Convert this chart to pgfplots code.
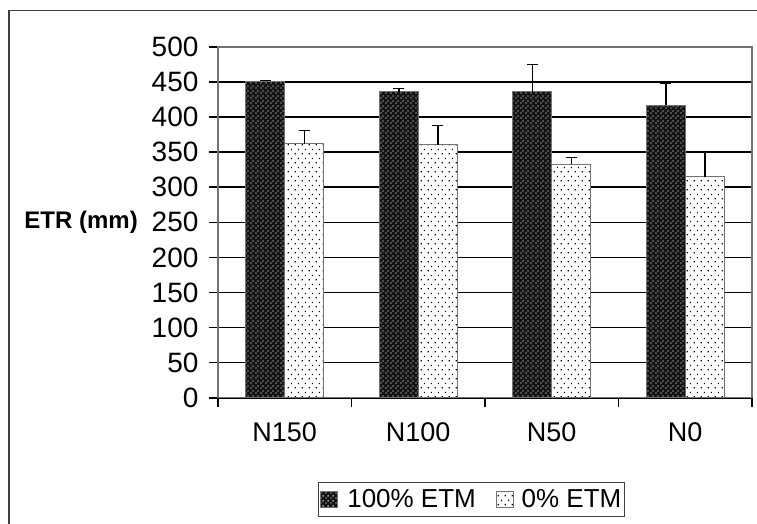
\documentclass[border=0pt]{standalone}
\usepackage{fontspec}
\setmainfont{Liberation Sans}
\usepackage{pgfplots}
\usepackage{pgfplotstable}
\pgfplotsset{compat=1.18}
\usetikzlibrary{patterns.meta}

\tikzdeclarepattern{name=darkdots, type=uncolored,
  bottom left={(0pt,0pt)}, top right={(5pt,5pt)}, tile size={(5pt,5pt)},
  code={\fill (0.3pt,0.3pt) rectangle (1.9pt,1.9pt); \fill (2.8pt,2.8pt) rectangle (4.4pt,4.4pt);}}
\tikzdeclarepattern{name=lightdots, type=uncolored,
  bottom left={(0pt,0pt)}, top right={(7pt,9pt)}, tile size={(7pt,9pt)},
  code={\fill (0.8pt,0.8pt) rectangle (2.2pt,2.2pt); \fill (4.3pt,5.3pt) rectangle (5.7pt,6.7pt);}}

\pgfplotsset{sqlegend/.style={legend image code/.code={\draw[##1] (0pt,-8pt) rectangle (17pt,8pt);}}}

\pgfplotstableread{
x y e
0 451 1.5
1 436 5
2 436 39
3 417 31
}\dark
\pgfplotstableread{
x y e
0 362 19
1 361 27
2 333 9.5
3 315 35
}\light

\begin{document}
\begin{tikzpicture}
\draw[black!75, line width=1.5pt] (9pt,-700pt) -- (9pt,-10.5pt) -- (800pt,-10.5pt);
\begin{axis}[
  at={(218pt,-397.7pt)}, anchor=south west,
  scale only axis, width=534pt, height=350.7pt,
  xmin=-0.5, xmax=3.5, ymin=0, ymax=500,
  ytick={0,50,...,500},
  xtick={-0.5,0.5,1.5,2.5,3.5},
  xticklabels={N150,N100,N50,N0},
  x tick label as interval,
  tick pos=left, tick align=outside,
  major tick length=9pt,
  tick style={black, line width=1.6pt},
  ymajorgrids, major grid style={black, line width=1.6pt},
  axis line style={black!55, line width=1.3pt},
  /pgf/number format/assume math mode=true,
  tick label style={font=\fontsize{27}{31}\selectfont},
  yticklabel style={xshift=-7pt, font=\fontsize{28}{32}\selectfont},
  xticklabel style={yshift=-12pt},
  every axis y label/.style={at={(axis description cs:0,0.5)}, anchor=east, inner sep=0pt, xshift=-80pt, font=\bfseries\fontsize{24}{28}\selectfont},
  ylabel={ETR (mm)},
  ybar=0pt, bar width=39pt,
  legend style={at={(axis description cs:0,0)}, anchor=north west, xshift=100pt, yshift=-84.3pt,
    draw=black!75, line width=1pt, font=\fontsize{26}{30}\selectfont,
    inner xsep=1pt, inner ysep=5pt},
  legend columns=2,
  legend style={/tikz/every even column/.append style={column sep=18pt}},
]
\addplot+[fill=black!92, draw=black!55, line width=0.8pt,
  postaction={pattern={darkdots}, pattern color=black!40},
  sqlegend,
  error bars/.cd, y dir=plus, y explicit,
  error bar style={black, line width=1.5pt},
  error mark options={black, line width=1.5pt, mark size=5.5pt, rotate=90}]
  table[x=x, y=y, y error=e]{\dark};
\addlegendentry{\hspace{8pt}100\% ETM}
\addplot+[fill=white, draw=black!55, line width=0.8pt,
  postaction={pattern={lightdots}, pattern color=black},
  sqlegend,
  error bars/.cd, y dir=plus, y explicit,
  error bar style={black, line width=1.5pt},
  error mark options={black, line width=1.5pt, mark size=5.5pt, rotate=90}]
  table[x=x, y=y, y error=e]{\light};
\addlegendentry{\hspace{6pt}0\% ETM}
\end{axis}
\pgfresetboundingbox
\path[use as bounding box] (0,0) rectangle (757pt,-524pt);
\end{tikzpicture}
\end{document}
